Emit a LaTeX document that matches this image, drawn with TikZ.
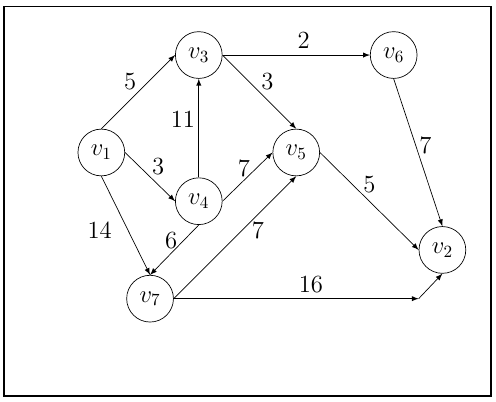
\documentclass[tikz,border=0pt]{standalone}
\usepackage{tikz}
\usetikzlibrary{arrows,positioning}

\begin{document}
\begin{tikzpicture}[font=\Large]
	\tikzstyle{vertex} = [circle,draw,minimum size=0.96cm,inner sep=1pt]
	\tikzstyle{edge} = [->,>=latex]
	\useasboundingbox (-2.08,-5.11) rectangle (8.1,3.13);
	\draw[thick] (-2,-5) rectangle (8,3);

	\node[vertex] (v1) at (0,0) {$v_1$};
	\node[vertex] (v3) at (2,2) {$v_3$};
	\node[vertex] (v6) at (6,2) {$v_6$};
	\node[vertex] (v5) at (4,0) {$v_5$};
	\node[vertex] (v4) at (2,-1) {$v_4$};
	\node[vertex] (v2) at (7,-2) {$v_2$};
	\node[vertex] (v7) at (1,-3) {$v_7$};
	\coordinate (K) at (v2.west |- v7.east);

	\draw[edge] (v1.north) -- (v3.west) node[midway,above left,inner sep=1pt] {5};
	\draw[edge] (v1.east) -- (v4.west) node[midway,above right,inner sep=1pt] {3};
	\draw[edge] (v1.south) -- (v7.north) node[pos=0.55,left=6pt] {14};
	\draw[edge] (v3.east) -- (v6.west) node[pos=0.55,above] {2};
	\draw[edge] (v3.east) -- (v5.north) node[midway,above right,inner sep=1pt] {3};
	\draw[edge] (v4.north) -- (v3.south) node[pos=0.59,left,inner sep=2pt] {11};
	\draw[edge] (v4.east) -- (v5.west) node[pos=0.43,above,inner sep=1.5pt] {7};
	\draw[edge] (v4.south) -- (v7.north) node[pos=0.32,left] {6};
	\draw[edge] (v7.east) -- (v5.south) node[pos=0.56,right=2pt] {7};
	\draw[edge] (v5.east) -- (v2.west) node[midway,above=1pt] {5};
	\draw[edge] (v6.south) -- (v2.north) node[pos=0.45,right,inner sep=2pt] {7};
	\draw[edge] (v7.east) -- (K) node[pos=0.56,above] {16};
	\draw[edge] (K) -- (v2.south);
\end{tikzpicture}
\end{document}
